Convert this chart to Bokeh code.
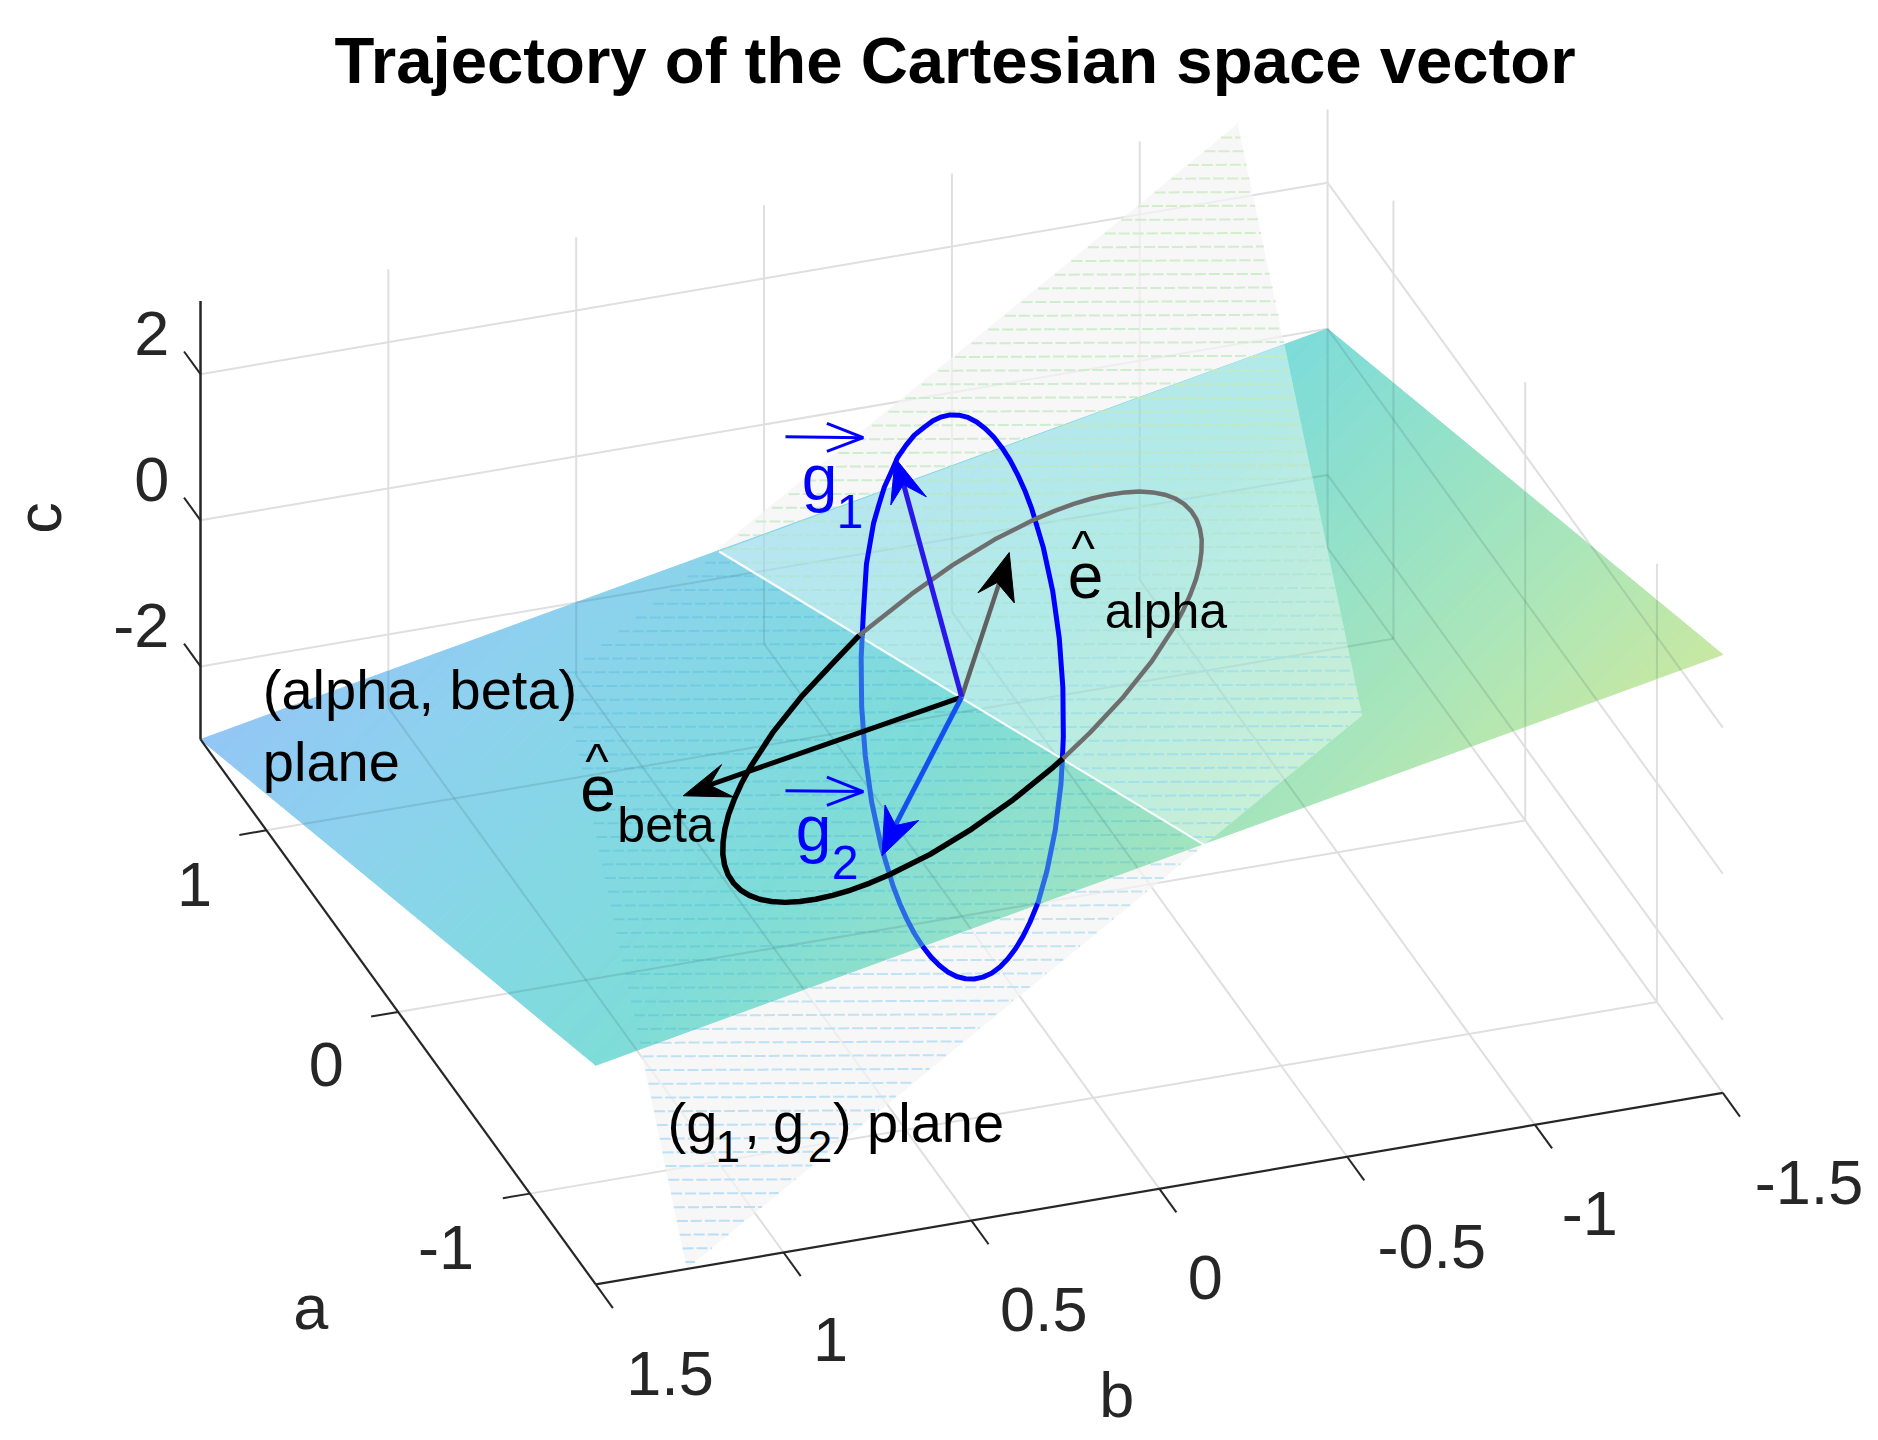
import math
from bokeh.plotting import figure
from bokeh.models import Range1d
from bokeh.core.properties import value
from bokeh.embed import file_html
from bokeh.resources import INLINE

# ---------- chart data ----------
title_text = "Trajectory of the Cartesian space vector"
a_ticks = [1, 0, -1]
b_ticks = [1.5, 1, 0.5, 0, -0.5, -1, -1.5]
c_ticks = [2, 0, -2]
a_tick_labels = ["1", "0", "-1"]
b_tick_labels = ["1.5", "1", "0.5", "0", "-0.5", "-1", "-1.5"]
c_tick_labels = ["2", "0", "-2"]

# Colour of the (alpha, beta) surface against its height c
surface_c = [-3, -2, -1, 0, 1, 2, 3]
surface_colors = ["#93c6f5", "#8dd1ee", "#84d8e4", "#7edcd8", "#94e1c8", "#acE6b8", "#c8e8a2"]

# Picture-space traces of the space vector (x, y of the projected view)
blue_top_x = [719.5, 720.6, 723, 729, 733.5, 738, 744, 749, 756, 763, 771.5, 778.5, 785.7, 793, 800.3, 807.8, 815.1,
              822.3, 829.4, 836.3, 843, 849.3, 855.3, 860.9, 870.7, 878.6, 884, 887, 887.4, 886.6]
blue_top_y = [530, 508.5, 470.6, 436.2, 420.7, 406.2, 393, 381.6, 371.5, 362.9, 356.1, 350.9, 347.6, 346, 346.2, 348.1,
              351.9, 357.5, 364.7, 373.6, 384, 396, 409.3, 424, 456.8, 493.5, 532.6, 573.5, 614.6, 633]
blue_right_x = [886.6, 885.4, 880.7, 873.7, 866]
blue_right_y = [633, 654.5, 692.4, 726.8, 754]
blue_bottom_x = [866, 859.4, 853.7, 847.6, 841.1, 834.5, 827.5, 820.3, 813, 805.7, 798.2, 790.9, 783.7, 776.6, 769.7]
blue_bottom_y = [754, 769.8, 781.4, 791.5, 800.1, 806.9, 812.1, 815.4, 817, 816.8, 814.9, 811.1, 805.5, 798.3, 789.4]
blue_left_x = [769.7, 763, 756.7, 750.7, 745.1, 735.3, 727.4, 722, 719, 718.6, 719.5]
blue_left_y = [789.4, 779, 767, 753.7, 739, 706.2, 669.5, 630.4, 589.5, 548.4, 530]

black_upper_x = [717, 726, 760.5, 795.2, 829.9, 863.9, 880.2, 896.1, 911.2, 925.4, 938.7, 951, 962.1, 972.2, 980.8,
                 988.1, 994, 998.5, 1001.4, 1002.9, 1002.7, 1001.2, 998.2, 993.5, 987.5, 980, 961.3, 937.5, 909.7, 887]
black_upper_y = [530, 522.8, 495.7, 471.2, 450.1, 433, 426.1, 420.3, 415.8, 412.6, 410.7, 410, 410.7, 412.6, 415.8,
                 420.3, 426.1, 433, 441, 450.1, 460.2, 471.2, 483.1, 495.7, 509, 522.8, 551.7, 581.5, 611.3, 633]
black_lower_x = [887, 878.8, 845.5, 810.8, 776.1, 742.1, 725.8, 709.9, 694.8, 680.6, 667.3, 655, 643.9, 633.8, 625.2,
                 617.9, 612, 607.5, 604.6, 603.1, 603.3, 604.8, 607.8, 612.5, 618.5, 626, 644.7, 668.5, 696.3, 717]
black_lower_y = [633, 640.2, 667.3, 691.8, 712.9, 730, 736.9, 742.7, 747.2, 750.4, 752.3, 753, 752.3, 750.4, 747.2,
                 742.7, 736.9, 730, 722, 712.9, 702.8, 691.8, 679.9, 667.3, 654, 640.2, 611.3, 581.5, 551.7, 530]

# Basis vectors in (a, b, c) for the alpha-beta plane, picture-space for the g vectors
e_alpha_abc = [0.816, -0.408, -0.408]
g1_tip = [747, 382]
g2_tip = [736, 714]

# ---------- projection of the 3-D box onto the picture ----------
def proj(a, b, c):
    return (497 + (a + 1.5) * -110 + (b - 1.5) * -313.67,
            1072 + (a + 1.5) * -151.67 + (b - 1.5) * 53.3 + (c + 3) * -61)

W, H = 1870, 1432
S = 1878 / 1568
p = figure(width=W, height=H, output_backend="svg", toolbar_location=None,
           x_range=Range1d(0, W / S), y_range=Range1d(H / S, 0),
           min_border=0, outline_line_color=None, background_fill_color="white")
p.xaxis.visible = False
p.yaxis.visible = False
p.grid.visible = False

# ---------- helpers ----------
def hex2rgb(h):
    return [int(h[i:i + 2], 16) for i in (1, 3, 5)]

def lerp_color(c0, c1, t):
    a, b = hex2rgb(c0), hex2rgb(c1)
    return "#%02x%02x%02x" % tuple(int(round(a[i] + (b[i] - a[i]) * t)) for i in range(3))

def surf_color(c):
    c = max(surface_c[0], min(surface_c[-1], c))
    for i in range(len(surface_c) - 1):
        if c <= surface_c[i + 1]:
            return lerp_color(surface_colors[i], surface_colors[i + 1],
                              (c - surface_c[i]) / (surface_c[i + 1] - surface_c[i]))
    return surface_colors[-1]

def row_span(poly, y):
    xs = []
    n = len(poly)
    for i in range(n):
        (x0, y0), (x1, y1) = poly[i], poly[(i + 1) % n]
        if (y0 <= y < y1) or (y1 <= y < y0):
            xs.append(x0 + (y - y0) * (x1 - x0) / (y1 - y0))
    return (min(xs), max(xs)) if len(xs) >= 2 else None

def clip_seg(p0, p1, poly):
    cx = sum(q[0] for q in poly) / len(poly)
    cy = sum(q[1] for q in poly) / len(poly)
    t0, t1 = 0.0, 1.0
    dx, dy = p1[0] - p0[0], p1[1] - p0[1]
    n = len(poly)
    for i in range(n):
        (x0, y0), (x1, y1) = poly[i], poly[(i + 1) % n]
        nx, ny = y0 - y1, x1 - x0
        if nx * (cx - x0) + ny * (cy - y0) < 0:
            nx, ny = -nx, -ny
        d = nx * dx + ny * dy
        f = nx * (p0[0] - x0) + ny * (p0[1] - y0)
        if abs(d) < 1e-9:
            if f < 0:
                return None
        elif d > 0:
            t0 = max(t0, -f / d)
        else:
            t1 = min(t1, -f / d)
    if t0 >= t1:
        return None
    return [(p0[0] + dx * t0, p0[1] + dy * t0), (p0[0] + dx * t1, p0[1] + dy * t1)]

def rows(poly, color_fn, alpha=1.0, step=11.45):
    y = 103.0
    while y < 1060:
        s = row_span(poly, y)
        if s:
            p.line([s[0], s[1]], [y, y + (s[0] - s[1]) * 0.004], line_color=color_fn(y), line_alpha=alpha,
                   line_width=2, line_dash=[11, 3])
        y += step

# ---------- grid ----------
lo, hi = -1.5, 1.5
zlo, zhi = -3, 3
grid = []
for a in a_ticks:
    grid.append((proj(a, hi, zlo), proj(a, lo, zlo)))
    grid.append((proj(a, lo, zlo), proj(a, lo, zhi)))
for b in b_ticks[1:]:
    grid.append((proj(lo, b, zlo), proj(hi, b, zlo)))
for b in b_ticks[1:]:
    grid.append((proj(hi, b, zlo), proj(hi, b, zhi)))
for c in c_ticks:
    grid.append((proj(hi, hi, c), proj(hi, lo, c)))
    grid.append((proj(hi, lo, c), proj(lo, lo, c)))
p.multi_line([[g[0][0], g[1][0]] for g in grid], [[g[0][1], g[1][1]] for g in grid],
             line_color="#dfdfdf", line_width=2)

# ---------- (g1, g2) plane: full faint sheet ----------
g_top, g_right, g_bottom, g_left = (1033, 103), (1137, 597), (573, 1059), (469, 564)
white_a, white_b = (600, 460), (1005, 705)
g_sheet = [g_top, g_right, g_bottom, g_left]
p.patch([q[0] for q in g_sheet], [q[1] for q in g_sheet], fill_color="#f4f4f4", fill_alpha=0.7, line_color=None)

outer_up = [white_a, g_top, (1072, 287)]
outer_dn = [(535, 876), g_bottom, white_b]
def up_col(y):
    return lerp_color("#d6edc8", "#cfeccf", min(1, (y - 100) / 190))
def dn_col(y):
    return lerp_color("#c3e4f0", "#b9def8", min(1, max(0, (y - 750) / 300)))
rows(outer_up, up_col)
rows(outer_dn, dn_col)

# ---------- (alpha, beta) plane, a + b + c = 0, banded by height ----------
plane = [proj(hi, hi, -3), proj(lo, hi, 0), proj(lo, lo, 3), proj(hi, lo, 0)]
N = 120
def ends(c):
    t = -c
    a1 = min(hi, t - lo)
    a2 = max(lo, t - hi)
    return (proj(a1, t - a1, c), proj(a2, t - a2, c))
for i in range(N):
    s0 = -3 + 6 * i / N
    s1 = -3 + 6 * (i + 1) / N
    e0, e1 = ends(s0), ends(s1)
    poly = [e0[0], e0[1], e1[1], e1[0]]
    col = surf_color((s0 + s1) / 2)
    p.patch([q[0] for q in poly], [q[1] for q in poly], fill_color=col, line_color=col, line_width=1)

# grid seen through the plane
gx, gy = [], []
for g in grid:
    seg = clip_seg(g[0], g[1], plane)
    if seg:
        gx.append([seg[0][0], seg[1][0]])
        gy.append([seg[0][1], seg[1][1]])
p.multi_line(gx, gy, line_color="#305a60", line_alpha=0.16, line_width=2)

# g-plane below the surface
inner_dn = [white_a, g_left, (535, 876), white_b]
rows(inner_dn, lambda y: "#1f9fd0", alpha=0.2)

# g-plane above the surface
inner_up = [white_a, (1072, 287), g_right, white_b]
p.patch([q[0] for q in inner_up], [q[1] for q in inner_up], fill_color="#ffffff", fill_alpha=0.4, line_color=None)
def in_col(y):
    return lerp_color("#c8ecb8", "#9fdfe8", min(1, max(0, (y - 290) / 320)))
rows(inner_up, in_col, alpha=0.9)
p.line([white_a[0], white_b[0]], [white_a[1], white_b[1]], line_color="white", line_width=2.2, line_alpha=0.9)

# ---------- trajectories ----------
BLUE = "#0000ff"
TINT = "#2a6ae4"
p.line(blue_top_x, blue_top_y, line_color=BLUE, line_width=5, line_join="round")
p.line(blue_right_x, blue_right_y, line_color=TINT, line_width=5, line_join="round")
p.line(blue_bottom_x, blue_bottom_y, line_color=BLUE, line_width=5, line_join="round")
p.line(blue_left_x, blue_left_y, line_color=TINT, line_width=5, line_join="round")
p.line(black_upper_x, black_upper_y, line_color="#6e6e6e", line_width=4.5, line_join="round")
p.line(black_lower_x, black_lower_y, line_color="#000000", line_width=5.5, line_join="round")

# ---------- arrows ----------
O = proj(0, 0, 0)
e_a = proj(*e_alpha_abc)
p.line([O[0], 834], [O[1], 486], line_color="#606060", line_width=4.5)
p.line([O[0], 592], [O[1], 655], line_color="#000000", line_width=5)
p.line([O[0], 754], [O[1], 404], line_color="#2a18e8", line_width=5)
p.line([O[0], 747], [O[1], 689], line_color="#1450f0", line_width=5)
heads = [
    (list(g1_tip), (773, 414.4), (753.8, 404.2), (743.3, 421.2), BLUE),
    (list(g2_tip), (766.6, 684.7), (747.4, 688.8), (738.5, 671.7), BLUE),
    ((e_a[0] + 1.5, e_a[1]), (816.1, 494.5), (832.1, 486), (846.5, 503), "#000000"),
    ((570, 664), (602, 638), (592, 655), (612, 665), "#000000"),
]
for tip, b1, n, b2, col in heads:
    p.patch([tip[0], b1[0], n[0], b2[0]], [tip[1], b1[1], n[1], b2[1]], fill_color=col, line_color=col, line_width=1)

for ya, yt in ((364.3, 365), (659.8, 660.5)):
    p.line([655.4, 720.3], [ya, yt], line_color=BLUE, line_width=3)
    p.line([690, 720.3, 690], [yt - 12, yt, yt + 11.5], line_color=BLUE, line_width=3)

# ---------- axes ----------
AX = "#262626"
def seg2(q0, q1, **kw):
    p.line([q0[0], q1[0]], [q0[1], q1[1]], **kw)
seg2(proj(hi, hi, zlo), proj(hi, hi, zhi), line_color=AX, line_width=2.5)
seg2(proj(hi, hi, zlo), proj(lo, hi, zlo), line_color=AX, line_width=2.2)
seg2(proj(lo, hi, zlo), proj(lo, lo, zlo), line_color=AX, line_width=2.2)
tx, ty = [], []
for c in c_ticks:
    q0, q1 = proj(hi, hi, c), proj(hi + 0.125, hi, c)
    tx.append([q0[0], q1[0]]); ty.append([q0[1], q1[1]])
for a in a_ticks:
    q0, q1 = proj(a, hi, zlo), proj(a, hi + 0.072, zlo)
    tx.append([q0[0], q1[0]]); ty.append([q0[1], q1[1]])
for b in b_ticks:
    q0, q1 = proj(lo, b, zlo), proj(lo - 0.13, b, zlo)
    tx.append([q0[0], q1[0]]); ty.append([q0[1], q1[1]])
p.multi_line(tx, ty, line_color=AX, line_width=2)

# ---------- text ----------
FONT = value("Liberation Sans")
def label(x, y, txt, size, color="#000000", align="left", base="alphabetic", style="normal", angle=0.0):
    p.text([x], [y], text=[txt], text_font=FONT, text_font_size=f"{size}px", text_color=color,
           text_align=align, text_baseline=base, text_font_style=style, angle=angle)

label(797, 50, title_text, 65.3, align="center", base="middle", style="bold")

TICK = "#262626"
TS = 63
for txt, x, y in zip(c_tick_labels, [141, 141, 141], [278, 400, 522]):
    label(x, y, txt, TS, TICK, align="right", base="middle")
for txt, x, y in zip(a_tick_labels, [162, 272, 372], [738, 888, 1041]):
    label(x, y, txt, TS, TICK, align="center", base="middle")
for txt, x, y in zip(b_tick_labels, [559, 693, 871, 1006, 1195, 1327, 1510], [1146, 1118, 1093, 1066, 1040, 1013, 987]):
    label(x, y, txt, TS, TICK, align="center", base="middle")
label(259, 1091, "a", TS, TICK, align="center", base="middle")
label(932, 1164, "b", TS, TICK, align="center", base="middle")
label(32, 432, "c", TS, TICK, align="center", base="middle", angle=math.pi / 2)

MS = 56
SS = 48
label(219, 575, "(alpha, beta)", MS)
label(219, 635, "plane", MS)
label(557, 937, "(g", MS); label(597, 957, "1", 44); label(621, 937, ",", MS)
label(645, 937, "g", MS); label(674, 957, "2", 44); label(695, 937, ") plane", MS)

label(669, 399, "g", 64, BLUE); label(698, 427, "1", SS, BLUE)
label(664, 692, "g", 64, BLUE); label(694, 720, "2", SS, BLUE)

label(891, 480, "e", 64); label(904, 457, "^", 50, align="center"); label(922, 510, "alpha", 50)
label(484, 658, "e", 64); label(498, 635, "^", 50, align="center"); label(515, 688, "beta", 50)

open("out.html", "w").write(file_html(p, INLINE))
